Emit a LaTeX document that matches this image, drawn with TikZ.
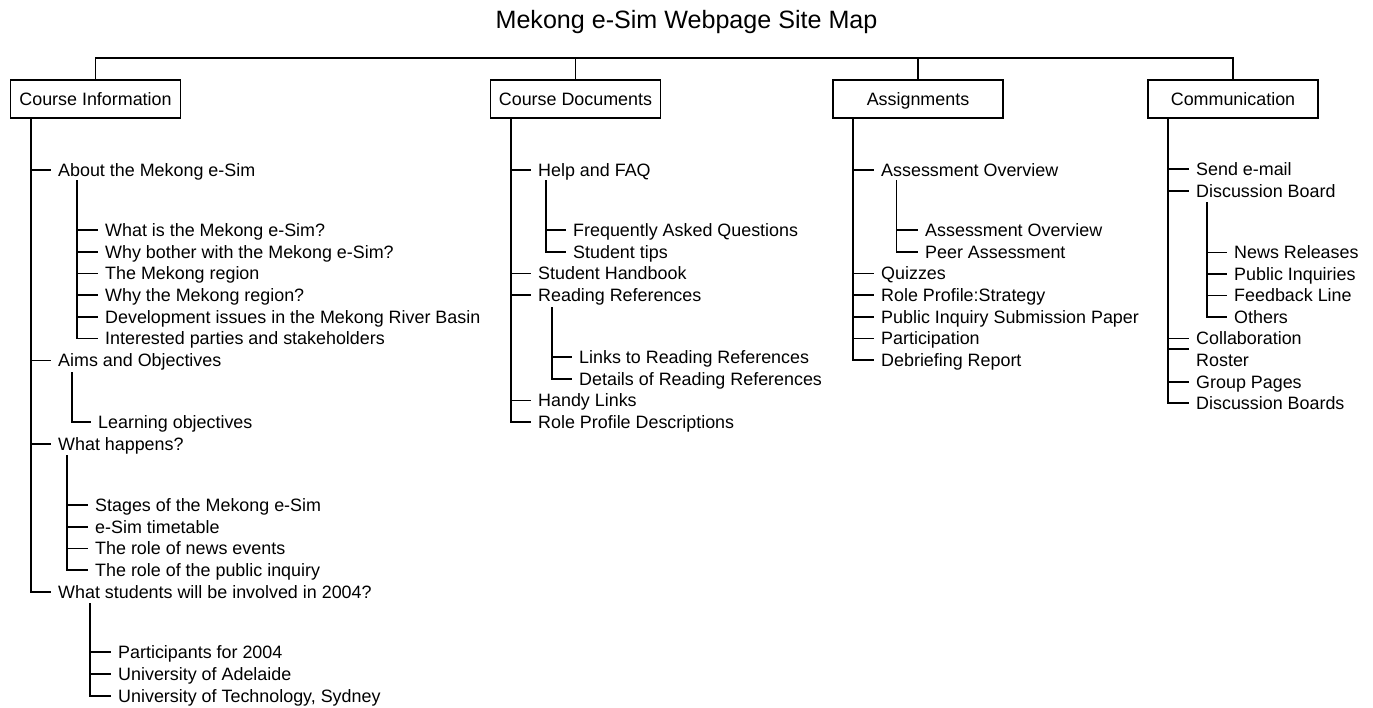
\documentclass[tikz,border=0pt]{standalone}
\usepackage{fontspec}
\setmainfont{Liberation Sans}
\usetikzlibrary{calc}
\begin{document}
\begin{tikzpicture}[x=1pt,y=-1pt,
  ln/.style={line width=1.8pt, black},
  item/.style={anchor=west, inner sep=0pt, text height=12.9pt, text depth=0pt, font=\fontsize{17.9}{20}\selectfont},
  hdr/.style={draw, line width=1.8pt, minimum width=170pt, minimum height=38pt, inner sep=0pt, text height=12.9pt, text depth=0pt, font=\fontsize{17.9}{20}\selectfont},
  ttl/.style={anchor=base, inner sep=0pt, font=\fontsize{25.1}{30}\selectfont}
]
\useasboundingbox (0,0) rectangle (1373,707);
\node[ttl] (title) at (686.5,28.5) {Mekong e-Sim Webpage Site Map};

% headers
\node[hdr] (ci) at (95.5,99) {Course Information};
\node[hdr] (cd) at (575.5,99) {Course Documents};
\node[hdr] (as) at (918,99) {Assignments};
\node[hdr] (co) at (1233,99) {Communication};
\draw[ln] (ci.north) -- ++(0,-21) -| (co.north);
\draw[ln] (cd.north) -- ++(0,-21);
\draw[ln] (as.north) -- ++(0,-21);

% trunk coordinates
\coordinate (ciT) at ($(ci.south west)+(21,0)$);
\coordinate (cdT) at ($(cd.south west)+(21,0)$);
\coordinate (asT) at ($(as.south west)+(21,0)$);
\coordinate (coT) at ($(co.south west)+(21,0)$);

% Course Information
\node[item] (ci1) at (58,170) {About the Mekong e-Sim};
\node[item] (ci11) at (105,230) {What is the Mekong e-Sim?};
\node[item] (ci12) at (105,252) {Why bother with the Mekong e-Sim?};
\node[item] (ci13) at (105,273.5) {The Mekong region};
\node[item] (ci14) at (105,295) {Why the Mekong region?};
\node[item] (ci15) at (105,317) {Development issues in the Mekong River Basin};
\node[item] (ci16) at (105,338.5) {Interested parties and stakeholders};
\node[item] (ci2) at (58,360.5) {Aims and Objectives};
\node[item] (ci21) at (98,422) {Learning objectives};
\node[item] (ci3) at (58,444) {What happens?};
\node[item] (ci31) at (95,505) {Stages of the Mekong e-Sim};
\node[item] (ci32) at (95,527) {e-Sim timetable};
\node[item] (ci33) at (95,548.5) {The role of news events};
\node[item] (ci34) at (95,570) {The role of the public inquiry};
\node[item] (ci4) at (58,592) {What students will be involved in 2004?};
\node[item] (ci41) at (118,652) {Participants for 2004};
\node[item] (ci42) at (118,674) {University of Adelaide};
\node[item] (ci43) at (118,696) {University of Technology, Sydney};

\draw[ln] (ciT) |- ([xshift=-7pt]ci4.west);
\foreach \n in {ci1,ci2,ci3} \draw[ln] (ciT |- \n.west) -- ([xshift=-7pt]\n.west);
\coordinate (ci1s) at (77,180);
\draw[ln] (ci1s) |- ([xshift=-7pt]ci16.west);
\foreach \n in {ci11,ci12,ci13,ci14,ci15} \draw[ln] (ci1s |- \n.west) -- ([xshift=-7pt]\n.west);
\coordinate (ci2s) at (72,372);
\draw[ln] (ci2s) |- ([xshift=-7pt]ci21.west);
\coordinate (ci3s) at (67,455);
\draw[ln] (ci3s) |- ([xshift=-7pt]ci34.west);
\foreach \n in {ci31,ci32,ci33} \draw[ln] (ci3s |- \n.west) -- ([xshift=-7pt]\n.west);
\coordinate (ci4s) at (90,603);
\draw[ln] (ci4s) |- ([xshift=-7pt]ci43.west);
\foreach \n in {ci41,ci42} \draw[ln] (ci4s |- \n.west) -- ([xshift=-7pt]\n.west);

% Course Documents
\node[item] (cd1) at (538,170) {Help and FAQ};
\node[item] (cd11) at (573,230) {Frequently Asked Questions};
\node[item] (cd12) at (573,252) {Student tips};
\node[item] (cd2) at (538,273.5) {Student Handbook};
\node[item] (cd3) at (538,295) {Reading References};
\node[item] (cd31) at (579,357) {Links to Reading References};
\node[item] (cd32) at (579,379) {Details of Reading References};
\node[item] (cd4) at (538,400.5) {Handy Links};
\node[item] (cd5) at (538,422) {Role Profile Descriptions};

\draw[ln] (cdT) |- ([xshift=-7pt]cd5.west);
\foreach \n in {cd1,cd2,cd3,cd4} \draw[ln] (cdT |- \n.west) -- ([xshift=-7pt]\n.west);
\coordinate (cd1s) at (546,180);
\draw[ln] (cd1s) |- ([xshift=-7pt]cd12.west);
\draw[ln] (cd1s |- cd11.west) -- ([xshift=-7pt]cd11.west);
\coordinate (cd3s) at (552,307);
\draw[ln] (cd3s) |- ([xshift=-7pt]cd32.west);
\draw[ln] (cd3s |- cd31.west) -- ([xshift=-7pt]cd31.west);

% Assignments
\node[item] (as1) at (881,170) {Assessment Overview};
\node[item] (as11) at (925,230) {Assessment Overview};
\node[item] (as12) at (925,252) {Peer Assessment};
\node[item] (as2) at (881,273.5) {Quizzes};
\node[item] (as3) at (881,295) {Role Profile:Strategy};
\node[item] (as4) at (881,317) {Public Inquiry Submission Paper};
\node[item] (as5) at (881,338.5) {Participation};
\node[item] (as6) at (881,360) {Debriefing Report};

\draw[ln] (asT) |- ([xshift=-7pt]as6.west);
\foreach \n in {as1,as2,as3,as4,as5} \draw[ln] (asT |- \n.west) -- ([xshift=-7pt]\n.west);
\coordinate (as1s) at (896.5,180);
\draw[ln] (as1s) |- ([xshift=-7pt]as12.west);
\draw[ln] (as1s |- as11.west) -- ([xshift=-7pt]as11.west);

% Communication
\node[item] (co1) at (1196,169) {Send e-mail};
\node[item] (co2) at (1196,191) {Discussion Board};
\node[item] (co21) at (1234,252.5) {News Releases};
\node[item] (co22) at (1234,274) {Public Inquiries};
\node[item] (co23) at (1234,295.5) {Feedback Line};
\node[item] (co24) at (1234,317) {Others};
\node[item] (co3) at (1196,338.5) {Collaboration};
\node[item] (co4) at (1196,360.5) {Roster};
\node[item] (co5) at (1196,382) {Group Pages};
\node[item] (co6) at (1196,403) {Discussion Boards};

\draw[ln] (coT) |- ([xshift=-7pt]co6.west);
\foreach \n in {co1,co2,co3,co5} \draw[ln] (coT |- \n.west) -- ([xshift=-7pt]\n.west);
\draw[ln] ([yshift=11.5pt]coT |- co4.west) -- ([xshift=-7pt,yshift=11.5pt]co4.west);
\coordinate (co2s) at (1207,202);
\draw[ln] (co2s) |- ([xshift=-7pt]co24.west);
\foreach \n in {co21,co22,co23} \draw[ln] (co2s |- \n.west) -- ([xshift=-7pt]\n.west);
\end{tikzpicture}
\end{document}
